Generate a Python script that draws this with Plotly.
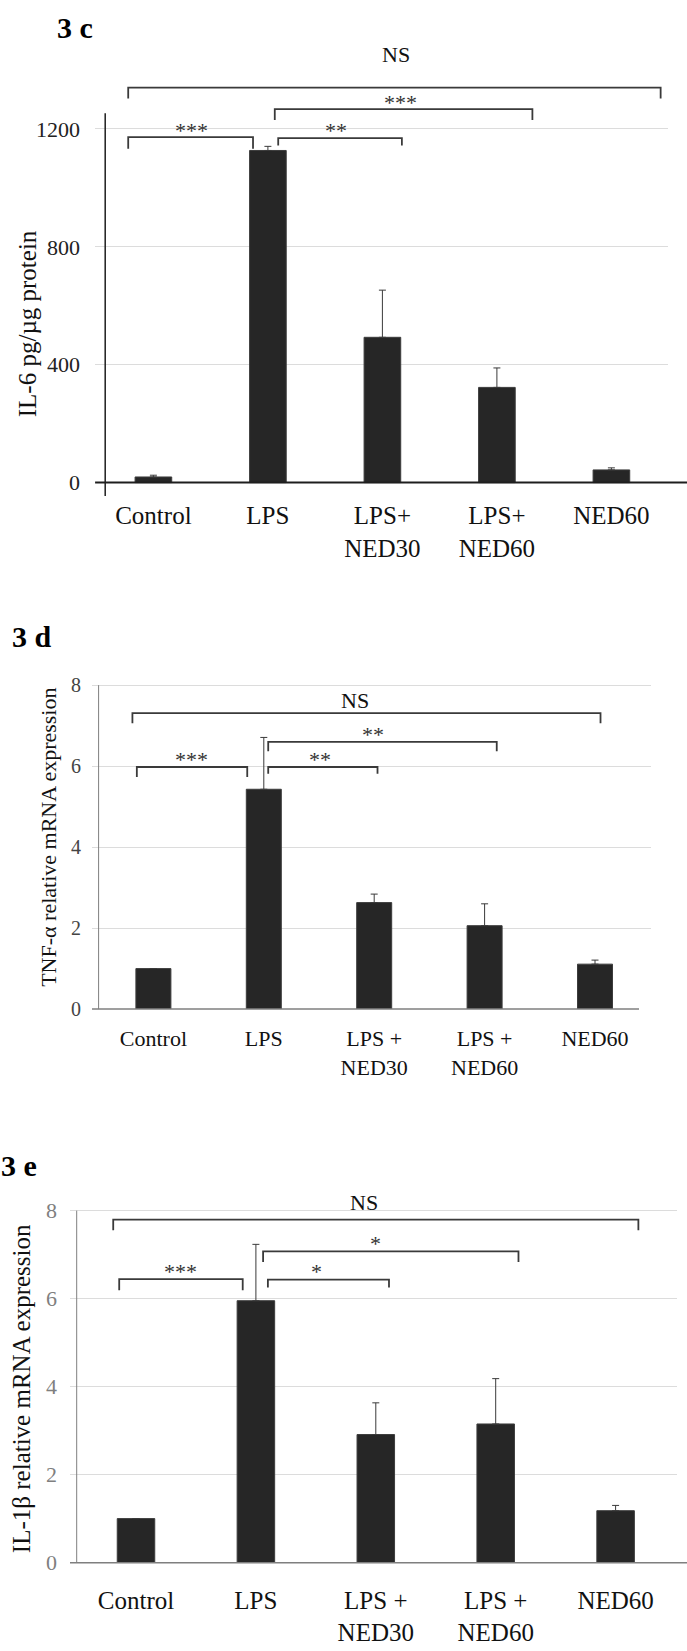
import plotly.graph_objects as go

W, H = 687, 1651
FONT = "Liberation Serif"

# ---------------- data ----------------
categories_c = ["Control", "LPS", "LPS+<br>NED30", "LPS+<br>NED60", "NED60"]
categories_de = ["Control", "LPS", "LPS +<br>NED30", "LPS +<br>NED60", "NED60"]

il6_mean = [19, 1127, 493, 323, 43]
il6_sd = [6, 14, 160, 66, 7]
tnf_mean = [1.0, 5.43, 2.63, 2.06, 1.11]
tnf_sd = [0.0, 1.28, 0.21, 0.54, 0.10]
il1b_mean = [1.0, 5.95, 2.91, 3.15, 1.18]
il1b_sd = [0.0, 1.28, 0.72, 1.03, 0.12]

ticks_c = [0, 400, 800, 1200]
ticks_de = [0, 2, 4, 6, 8]

# significance brackets: (x_left, x_right, level, drop_to, label, label_x, label_y)
brackets_c = [
    (-0.22, 4.43, 1340, 1303, "NS", 2.115, 1452),
    (-0.22, 0.87, 1172, 1133, "***", 0.337, 1196),
    (1.09, 2.17, 1169, 1144, "**", 1.592, 1196),
    (1.06, 3.31, 1267, 1230, "***", 2.162, 1290),
]
brackets_d = [
    (-0.19, 4.05, 7.31, 7.06, "NS", 1.826, 7.63),
    (-0.15, 0.85, 5.98, 5.73, "***", 0.345, 6.16),
    (1.04, 2.03, 5.98, 5.81, "**", 1.509, 6.16),
    (1.04, 3.11, 6.60, 6.37, "**", 1.985, 6.78),
]
brackets_e = [
    (-0.19, 4.19, 7.79, 7.55, "NS", 1.899, 8.18),
    (-0.14, 0.89, 6.44, 6.19, "***", 0.371, 6.62),
    (1.10, 2.11, 6.43, 6.25, "*", 1.508, 6.62),
    (1.06, 3.19, 7.07, 6.83, "*", 1.998, 7.24),
]

# ---------------- panel geometry (pixels) ----------------
panels = [
    dict(name="3 c", cats=categories_c, mean=il6_mean, sd=il6_sd, ticks=ticks_c,
         brackets=brackets_c, ytitle="IL-6 pg/µg protein",
         x0=153.4, dx=114.5, zero=485.7, ppu=0.2972,
         left=95.1, right=668.3, top=40, bottom=499.3,
         yaxis_x=105.2, yaxis_top=113.3, yaxis_bot=499.3,
         xaxis_l=95.1, xaxis_r=687, axis_col="#1e1e1e", xaxis_w=2, yaxis_w=1.5,
         ytick_font=22, ytick_col="#222222", ytick_stand=14,
         xtick_font=25, xtick_stand=2, bw=0.32,
         title_xy=(75, 27), ytitle_xy=(27, 326), ytitle_size=25),
    dict(name="3 d", cats=categories_de, mean=tnf_mean, sd=tnf_sd, ticks=ticks_de,
         brackets=brackets_d, ytitle="TNF-α relative mRNA expression",
         x0=153.4, dx=110.4, zero=1016.7, ppu=40.83,
         left=92, right=650.7, top=680, bottom=1016.7,
         yaxis_x=98.6, yaxis_top=690, yaxis_bot=1016.7,
         xaxis_l=92, xaxis_r=639, axis_col="#7f7f7f", xaxis_w=1.5, yaxis_w=1,
         ytick_font=20, ytick_col="#444444", ytick_stand=10,
         xtick_font=22, xtick_stand=14, bw=0.317,
         title_xy=(32, 641), ytitle_xy=(49, 844), ytitle_size=22),
    dict(name="3 e", cats=categories_de, mean=il1b_mean, sd=il1b_sd, ticks=ticks_de,
         brackets=brackets_e, ytitle="IL-1β relative mRNA expression",
         x0=136, dx=119.9, zero=1575, ppu=44.4,
         left=70, right=677, top=1190, bottom=1575,
         yaxis_x=76.7, yaxis_top=1220, yaxis_bot=1575,
         xaxis_l=70, xaxis_r=687, axis_col="#7f7f7f", xaxis_w=1.5, yaxis_w=1,
         ytick_font=22, ytick_col="#7f7f7f", ytick_stand=12,
         xtick_font=25, xtick_stand=20, bw=0.313,
         title_xy=(18.5, 1174), ytitle_xy=(21, 1400), ytitle_size=25),
]

BAR_COL = "#262626"
BRK_COL = "#3a3a3a"


def px_x(p):
    return p / W


def px_y(p):
    return 1 - p / H


fig = go.Figure()
shapes = []
annotations = []
layout_axes = {}

for k, p in enumerate(panels, start=1):
    xa = "x" if k == 1 else f"x{k}"
    ya = "y" if k == 1 else f"y{k}"
    xrange_ = [(p["left"] - p["x0"]) / p["dx"], (p["right"] - p["x0"]) / p["dx"]]
    yrange_ = [(p["zero"] - p["bottom"]) / p["ppu"], (p["zero"] - p["top"]) / p["ppu"]]

    fig.add_trace(go.Bar(
        x=p["cats"], y=p["mean"], xaxis=xa, yaxis=ya, width=p["bw"],
        marker=dict(color=BAR_COL, line=dict(color="#3c3c3c", width=1)),
        error_y=dict(type="data", array=p["sd"], arrayminus=[0] * len(p["sd"]),
                     symmetric=False, color="#3a3a3a", thickness=1, width=3.5),
        showlegend=False, hoverinfo="skip",
    ))

    layout_axes["xaxis" if k == 1 else f"xaxis{k}"] = dict(
        domain=[px_x(p["left"]), px_x(p["right"])], range=xrange_, anchor=ya,
        type="category", showgrid=False, showline=False, zeroline=False, ticks="",
        tickfont=dict(family=FONT, size=p["xtick_font"], color="#111111"),
        ticklabelstandoff=p["xtick_stand"], fixedrange=True,
    )
    layout_axes["yaxis" if k == 1 else f"yaxis{k}"] = dict(
        domain=[px_y(p["bottom"]), px_y(p["top"])], range=yrange_, anchor=xa,
        tickvals=p["ticks"], showgrid=True, gridcolor="#dcdcdc", gridwidth=1,
        showline=False, zeroline=False, ticks="",
        tickfont=dict(family=FONT, size=p["ytick_font"], color=p["ytick_col"]),
        ticklabelstandoff=p["ytick_stand"], fixedrange=True,
    )

    # axis lines
    shapes.append(dict(type="line", xref="paper", yref="paper",
                       x0=px_x(p["yaxis_x"]), x1=px_x(p["yaxis_x"]),
                       y0=px_y(p["yaxis_bot"]), y1=px_y(p["yaxis_top"]),
                       line=dict(color=p["axis_col"], width=p["yaxis_w"])))
    shapes.append(dict(type="line", xref="paper", yref="paper",
                       x0=px_x(p["xaxis_l"]), x1=px_x(p["xaxis_r"]),
                       y0=px_y(p["zero"]), y1=px_y(p["zero"]),
                       line=dict(color=p["axis_col"], width=p["xaxis_w"])))

    # brackets
    for (xl, xr, lvl, drop, lab, lx, ly) in p["brackets"]:
        shapes.append(dict(type="path", xref=xa, yref=ya,
                           path=f"M {xl},{drop} L {xl},{lvl} L {xr},{lvl} L {xr},{drop}",
                           line=dict(color=BRK_COL, width=1.8)))
        annotations.append(dict(x=lx, y=ly, xref=xa, yref=ya, text=lab, showarrow=False,
                                font=dict(family=FONT, size=22,
                                          color="#111111" if lab == "NS" else "#333333"),
                                xanchor="center", yanchor="middle"))

    # panel label
    tx, ty = p["title_xy"]
    annotations.append(dict(x=px_x(tx), y=px_y(ty), xref="paper", yref="paper",
                            text=f"<b>{p['name']}</b>", showarrow=False,
                            font=dict(family=FONT, size=30, color="#000000"),
                            xanchor="center", yanchor="middle"))
    # y title
    yx, yy = p["ytitle_xy"]
    annotations.append(dict(x=px_x(yx), y=px_y(yy), xref="paper", yref="paper",
                            text=p["ytitle"], showarrow=False, textangle=-90,
                            font=dict(family=FONT, size=p["ytitle_size"], color="#111111"),
                            xanchor="center", yanchor="middle"))

fig.update_layout(
    width=W, height=H, margin=dict(l=0, r=0, t=0, b=0),
    paper_bgcolor="white", plot_bgcolor="white",
    bargap=0.68, shapes=shapes, annotations=annotations, showlegend=False,
    font=dict(family=FONT),
    **layout_axes,
)

fig.write_html("out.html", config={"displayModeBar": False})
